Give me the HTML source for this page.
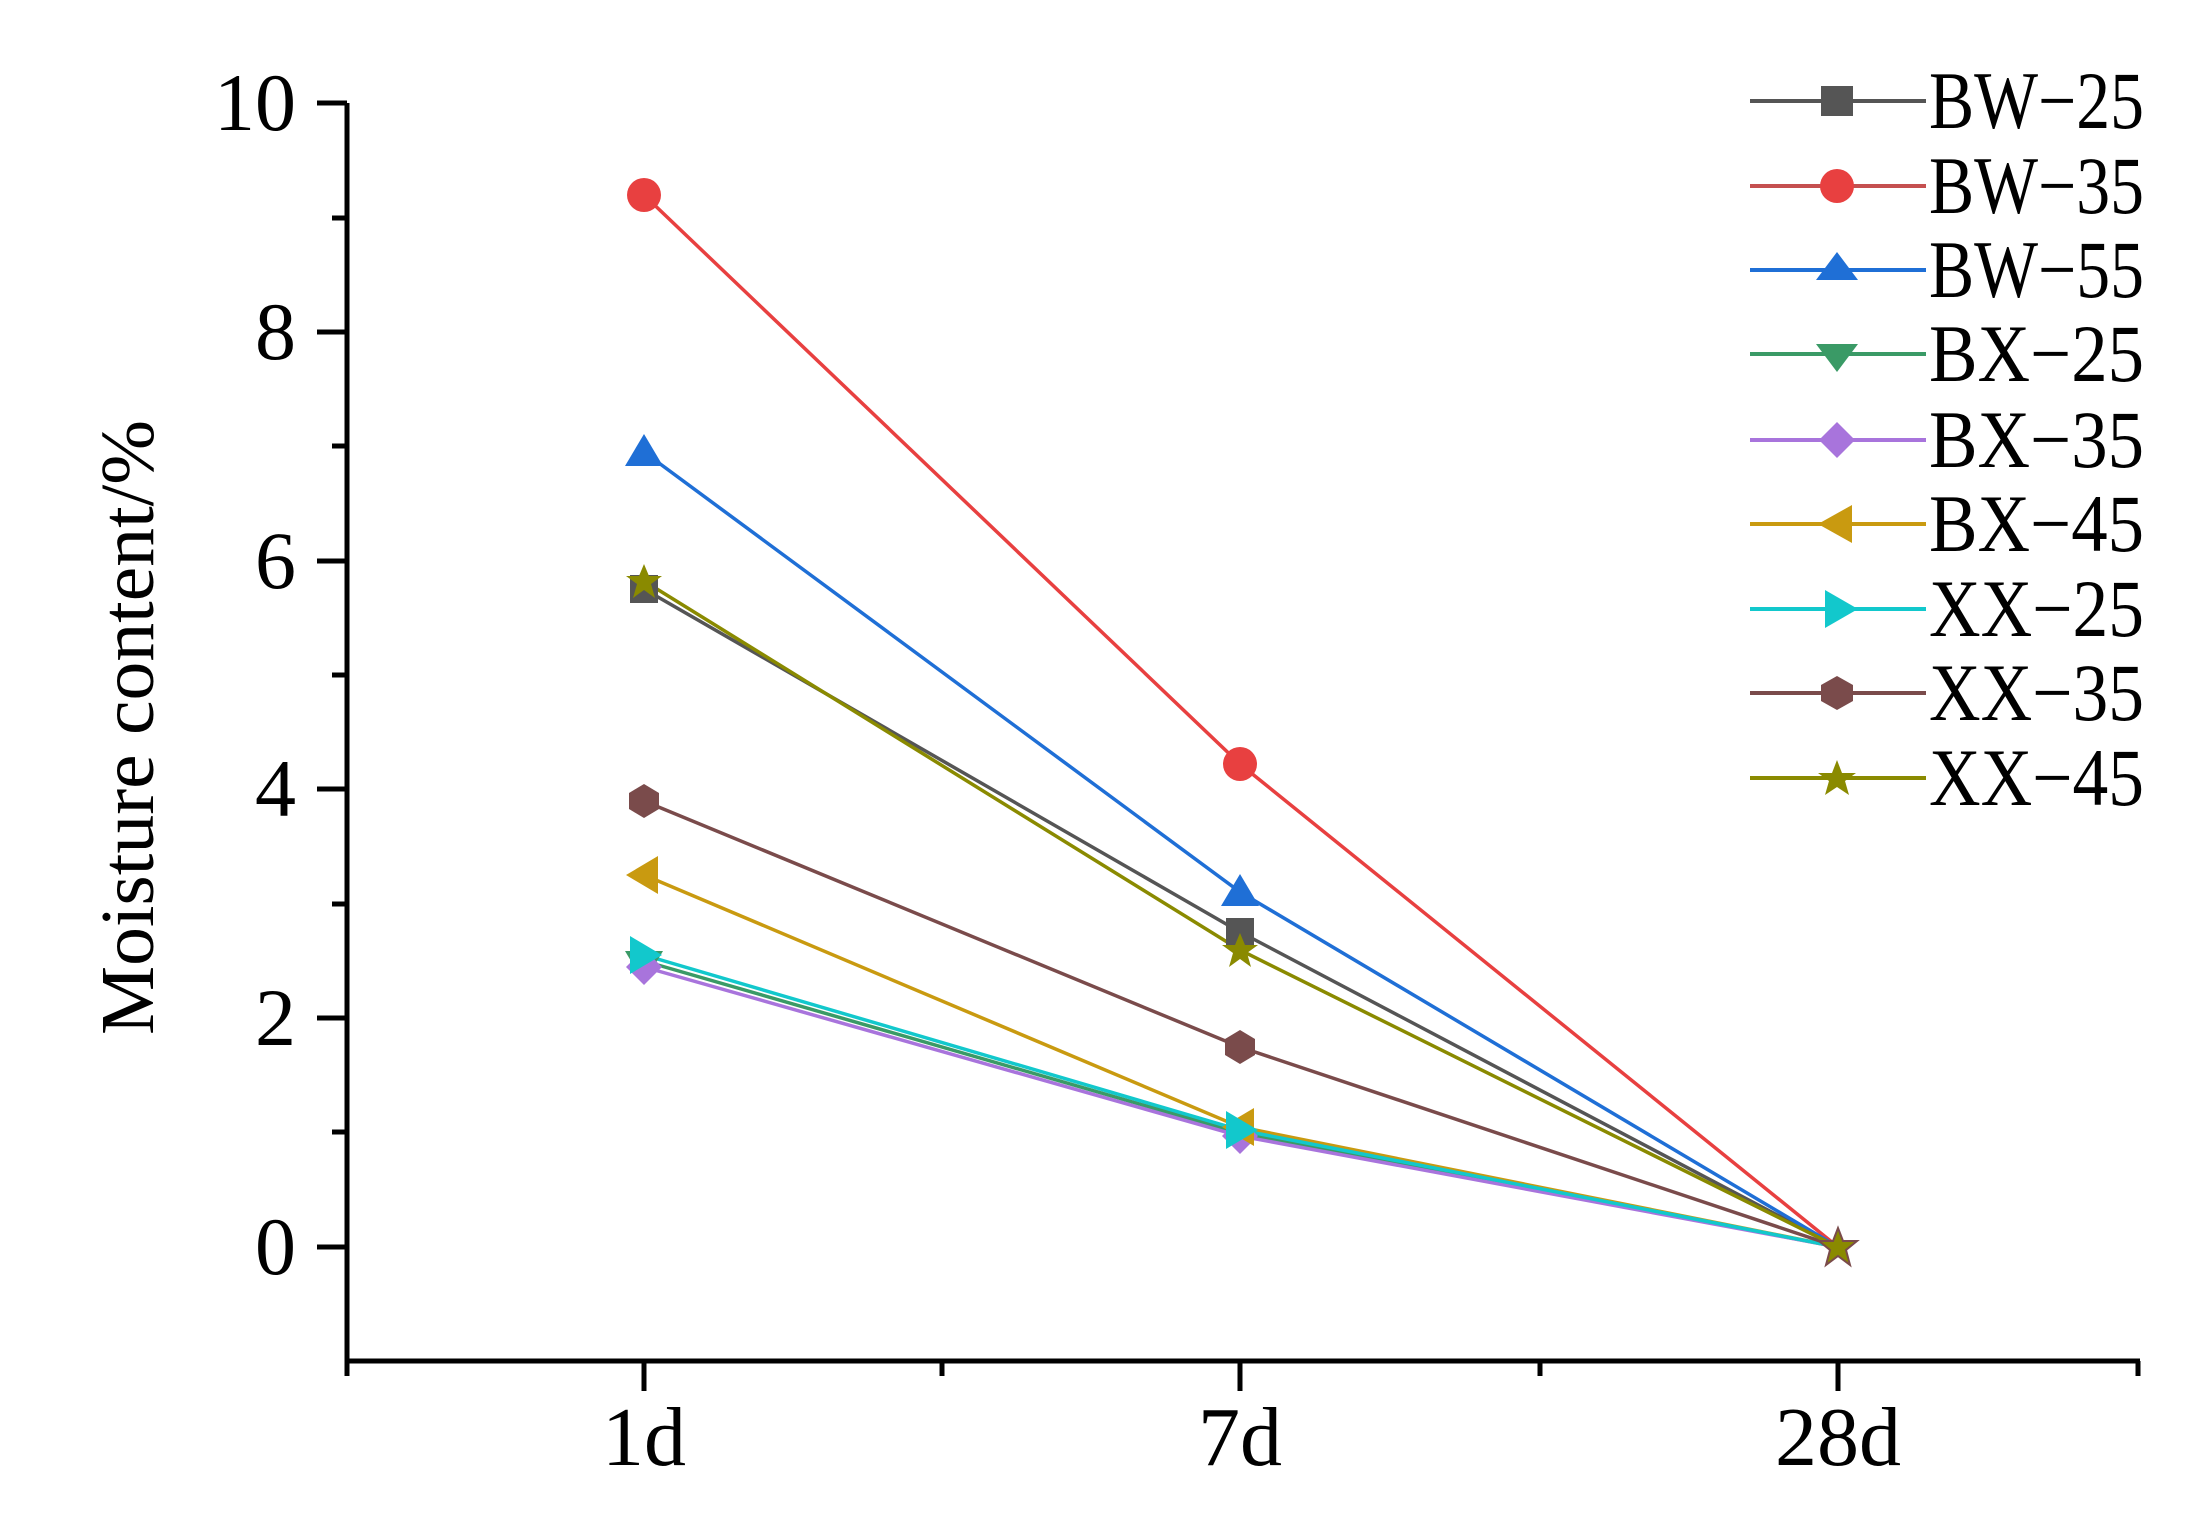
<!DOCTYPE html>
<html><head><meta charset="utf-8"><style>html,body{margin:0;padding:0;background:#fff}svg{display:block}</style></head>
<body>
<svg width="2205" height="1513" viewBox="0 0 2205 1513" xmlns="http://www.w3.org/2000/svg" font-family="Liberation Serif, serif">
<rect width="2205" height="1513" fill="#fff"/>
<!-- axes -->
<g stroke="#000" stroke-width="5" fill="none">
<line x1="347" y1="103" x2="347" y2="1361"/>
<line x1="345" y1="1361" x2="2140" y2="1361"/>
<line x1="317" y1="103" x2="347" y2="103"/>
<line x1="317" y1="332" x2="347" y2="332"/>
<line x1="317" y1="561" x2="347" y2="561"/>
<line x1="317" y1="789" x2="347" y2="789"/>
<line x1="317" y1="1018" x2="347" y2="1018"/>
<line x1="317" y1="1247" x2="347" y2="1247"/>
<line x1="332" y1="218" x2="347" y2="218"/>
<line x1="332" y1="446" x2="347" y2="446"/>
<line x1="332" y1="675" x2="347" y2="675"/>
<line x1="332" y1="904" x2="347" y2="904"/>
<line x1="332" y1="1132" x2="347" y2="1132"/>
<line x1="347" y1="1361" x2="347" y2="1376"/>
<line x1="644" y1="1361" x2="644" y2="1391"/>
<line x1="942" y1="1361" x2="942" y2="1376"/>
<line x1="1240" y1="1361" x2="1240" y2="1391"/>
<line x1="1540" y1="1361" x2="1540" y2="1376"/>
<line x1="1838" y1="1361" x2="1838" y2="1391"/>
<line x1="2138" y1="1361" x2="2138" y2="1376"/>
</g>
<g font-size="82" text-anchor="end" fill="#000">
<text x="296" y="130">10</text>
<text x="296" y="359">8</text>
<text x="296" y="588">6</text>
<text x="296" y="816">4</text>
<text x="296" y="1045">2</text>
<text x="296" y="1274">0</text>
</g>
<g font-size="84" text-anchor="middle" fill="#000">
<text x="644" y="1465">1d</text>
<text x="1240" y="1465">7d</text>
<text x="1838" y="1465">28d</text>
</g>
<text transform="translate(153,1035) rotate(-90)" font-size="76" textLength="615" lengthAdjust="spacingAndGlyphs">Moisture content/%</text>
<!-- series -->
<g fill="none" stroke-width="3.5">
<polyline stroke="#555" points="644,589 1240,932 1838,1247"/>
<polyline stroke="#e84040" points="644,195 1240,764 1838,1247"/>
<polyline stroke="#1f6fd6" points="644,452 1240,892 1838,1247"/>
<polyline stroke="#3a9a66" points="644,961 1240,1133 1838,1247"/>
<polyline stroke="#a874dc" points="644,967 1240,1136 1838,1247"/>
<polyline stroke="#c99a10" points="644,875 1240,1127 1838,1247"/>
<polyline stroke="#12c8cc" points="644,955 1240,1130 1838,1247"/>
<polyline stroke="#7a4b4b" points="644,801 1240,1047 1838,1247"/>
<polyline stroke="#8a8a00" points="644,581 1240,950 1838,1247"/>
</g>
<!-- markers -->
<g>
<rect x="630" y="575" width="28" height="28" fill="#555"/><rect x="1226" y="918" width="28" height="28" fill="#555"/>
<circle cx="644" cy="195" r="17" fill="#e84040"/><circle cx="1240" cy="764" r="17" fill="#e84040"/>
<polygon points="644,434 663,466 625,466" fill="#1f6fd6"/><polygon points="1240,874 1259,906 1221,906" fill="#1f6fd6"/>
<polygon points="625,951 663,951 644,983" fill="#3a9a66"/>
<polygon points="644,949 662,967 644,985 626,967" fill="#a874dc"/><polygon points="1240,1118 1258,1136 1240,1154 1222,1136" fill="#a874dc"/>
<polygon points="626,875 658,856 658,894" fill="#c99a10"/><polygon points="1222,1127 1254,1108 1254,1146" fill="#c99a10"/>
<polygon points="662,955 630,936 630,974" fill="#12c8cc"/><polygon points="1258,1130 1226,1111 1226,1149" fill="#12c8cc"/>
<polygon points="644,784 659,793 659,809 644,818 629,809 629,793" fill="#7a4b4b"/><polygon points="1240,1030 1255,1039 1255,1055 1240,1064 1225,1055 1225,1039" fill="#7a4b4b"/>
<polygon points="644,564 649,576 662,576 651,584 655,598 644,590 633,598 637,584 626,576 639,576" fill="#8a8a00"/>
<polygon points="1240,933 1245,945 1258,945 1247,953 1251,967 1240,959 1229,967 1233,953 1222,945 1235,945" fill="#8a8a00"/>
<polygon points="1838,1228 1843,1241 1857,1241 1846,1250 1850,1265 1838,1256 1826,1265 1830,1250 1819,1241 1833,1241" fill="#8a8a00" stroke="#7a4b4b" stroke-width="2"/>
</g>
<!-- legend -->
<g stroke-width="4">
<line x1="1750" y1="101" x2="1926" y2="101" stroke="#555"/>
<line x1="1750" y1="186" x2="1926" y2="186" stroke="#c55050"/>
<line x1="1750" y1="270" x2="1926" y2="270" stroke="#1f6fd6"/>
<line x1="1750" y1="354" x2="1926" y2="354" stroke="#3a9a66"/>
<line x1="1750" y1="440" x2="1926" y2="440" stroke="#a874dc"/>
<line x1="1750" y1="524" x2="1926" y2="524" stroke="#c99a10"/>
<line x1="1750" y1="609" x2="1926" y2="609" stroke="#12c8cc"/>
<line x1="1750" y1="693" x2="1926" y2="693" stroke="#7a4b4b"/>
<line x1="1750" y1="778" x2="1926" y2="778" stroke="#8a8a00"/>
</g>
<g>
<rect x="1821" y="86" width="32" height="30" fill="#555"/>
<circle cx="1837" cy="186" r="17" fill="#e84040"/>
<polygon points="1837,252 1858,280 1816,280" fill="#1f6fd6"/>
<polygon points="1816,344 1858,344 1837,372" fill="#3a9a66"/>
<polygon points="1837,422 1855,440 1837,458 1819,440" fill="#a874dc"/>
<polygon points="1818,524 1852,505 1852,543" fill="#c99a10"/>
<polygon points="1858,609 1825,590 1825,628" fill="#12c8cc"/>
<polygon points="1837,676 1853,685 1853,701 1837,710 1821,701 1821,685" fill="#7a4b4b"/>
<polygon points="1837,760 1842,773 1856,773 1845,781 1849,795 1837,787 1825,795 1829,781 1818,773 1832,773" fill="#8a8a00"/>
</g>
<g font-size="82" fill="#000">
<text x="1929" y="128" textLength="215" lengthAdjust="spacingAndGlyphs">BW−25</text>
<text x="1929" y="213" textLength="215" lengthAdjust="spacingAndGlyphs">BW−35</text>
<text x="1929" y="297" textLength="215" lengthAdjust="spacingAndGlyphs">BW−55</text>
<text x="1929" y="381" textLength="215" lengthAdjust="spacingAndGlyphs">BX−25</text>
<text x="1929" y="467" textLength="215" lengthAdjust="spacingAndGlyphs">BX−35</text>
<text x="1929" y="551" textLength="215" lengthAdjust="spacingAndGlyphs">BX−45</text>
<text x="1929" y="636" textLength="215" lengthAdjust="spacingAndGlyphs">XX−25</text>
<text x="1929" y="720" textLength="215" lengthAdjust="spacingAndGlyphs">XX−35</text>
<text x="1929" y="805" textLength="215" lengthAdjust="spacingAndGlyphs">XX−45</text>
</g>
</svg>
</body></html>
